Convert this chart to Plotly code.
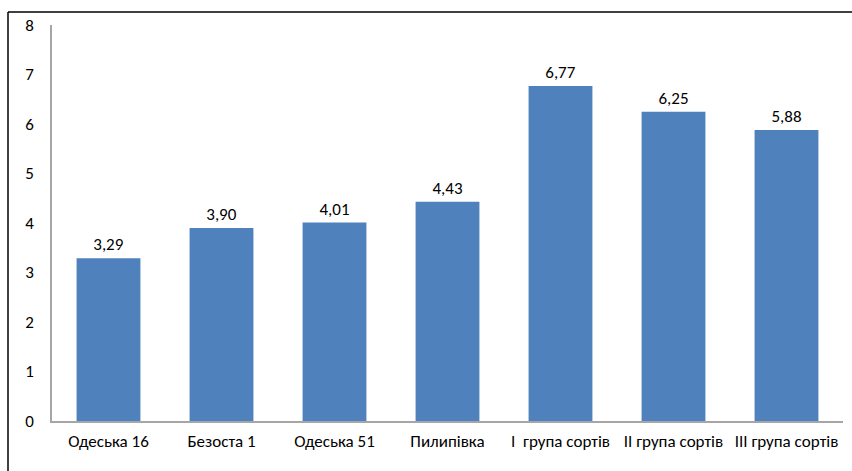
import plotly.graph_objects as go

categories = ["Одеська 16", "Безоста 1", "Одеська 51", "Пилипівка",
              "I  група сортів", "II група сортів", "III група сортів"]
values = [3.29, 3.90, 4.01, 4.43, 6.77, 6.25, 5.88]
labels = [f"{v:.2f}".replace(".", ",") for v in values]
y_ticks = [0, 1, 2, 3, 4, 5, 6, 7, 8]

W, H = 852, 471
L, R, T, B = 52, 9, 25, 50
pw, ph = W - L - R, H - T - B

fig = go.Figure(go.Bar(
    x=categories, y=values, text=labels, textposition="outside",
    marker=dict(color="#4F81BD", line=dict(width=0)),
    textfont=dict(size=17, color="#000000"),
    cliponaxis=False, width=0.565,
))

font_family = "Carlito, Calibri, Lato, 'Open Sans', sans-serif"
fig.update_layout(
    width=W, height=H,
    margin=dict(l=L, r=R, t=T, b=B),
    paper_bgcolor="white", plot_bgcolor="white",
    font=dict(family=font_family, size=17, color="#000000"),
    showlegend=False,
    xaxis=dict(showline=True, linecolor="#A6A6A6", linewidth=1.5,
               ticks="", tickfont=dict(size=17), showgrid=False,
               ticklabelstandoff=4),
    yaxis=dict(range=[0, 8], tickvals=y_ticks, showline=True,
               linecolor="#A6A6A6", linewidth=1.5, ticks="",
               showgrid=False, zeroline=False, ticklabelstandoff=13,
               tickfont=dict(size=17)),
)

# figure frame (left and top edges visible)
x0 = (8 - L) / pw
ytop = (H - B - 12) / ph
ybot = (H - B - H) / ph
fig.add_shape(type="line", xref="paper", yref="paper", x0=x0, x1=x0,
              y0=ybot, y1=ytop, line=dict(color="black", width=1.5))
fig.add_shape(type="line", xref="paper", yref="paper", x0=x0, x1=(W + 5 - L) / pw,
              y0=ytop, y1=ytop, line=dict(color="black", width=1.5))

fig.write_html("out.html")
